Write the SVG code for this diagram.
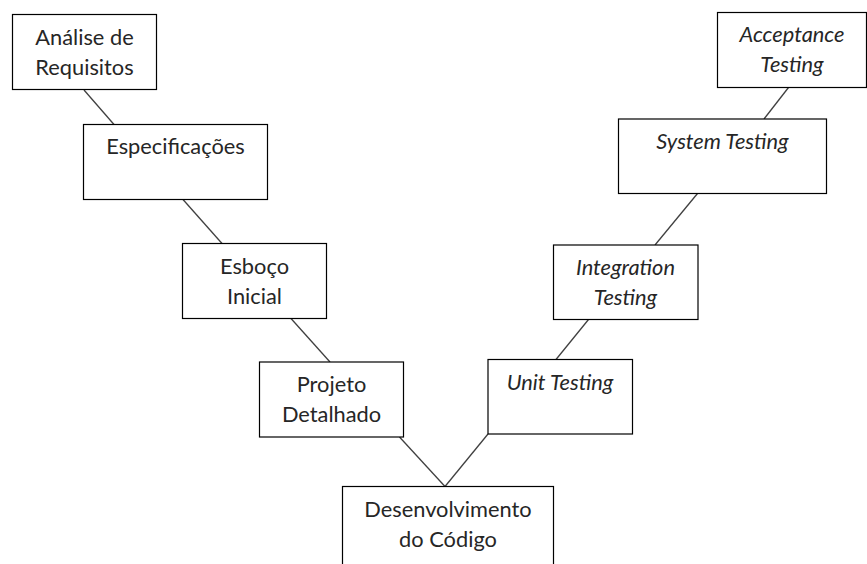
<svg xmlns="http://www.w3.org/2000/svg" width="867" height="564" viewBox="0 0 867 564">
<style>
.box{fill:#fff;stroke:#000;stroke-width:1.2}
.t{font-family:Lato,"Liberation Sans",sans-serif;font-size:21.8px;fill:#262626;text-anchor:middle}
.i{font-style:italic}
.c{stroke:#404040;stroke-width:1.3;fill:none}
</style>
<rect width="867" height="564" fill="#fff"/>
<g id="connectors">
<line class="c" x1="84" y1="90" x2="114" y2="124.5"/>
<line class="c" x1="183" y1="199.5" x2="222" y2="243.5"/>
<line class="c" x1="291" y1="318.5" x2="330" y2="362"/>
<line class="c" x1="399.5" y1="437" x2="445" y2="486.5"/>
<line class="c" x1="445" y1="486.5" x2="488" y2="434"/>
<line class="c" x1="556" y1="359.5" x2="588.5" y2="319.5"/>
<line class="c" x1="655" y1="245" x2="697.5" y2="193.5"/>
<line class="c" x1="764" y1="119" x2="788.5" y2="87.5"/>
</g>
<g id="n1"><rect class="box" x="12.5" y="14.5" width="144" height="75"/><text class="t" x="84.5" y="45">Análise de</text><text class="t" x="84.5" y="75">Requisitos</text></g>
<g id="n2"><rect class="box" x="83.5" y="124.5" width="184" height="75"/><text class="t" x="175.5" y="154">Especificações</text></g>
<g id="n3"><rect class="box" x="182.5" y="243.5" width="144" height="75"/><text class="t" x="254.5" y="273.5">Esboço</text><text class="t" x="254.5" y="303.5">Inicial</text></g>
<g id="n4"><rect class="box" x="259.5" y="362" width="144" height="75"/><text class="t" x="331.5" y="392">Projeto</text><text class="t" x="331.5" y="422">Detalhado</text></g>
<g id="n5"><rect class="box" x="342.5" y="486.5" width="211" height="90"/><text class="t" x="448" y="516.5">Desenvolvimento</text><text class="t" x="448" y="546.5">do Código</text></g>
<g id="n6"><rect class="box" x="488" y="359.5" width="144.5" height="74.5"/><text class="t i" x="560" y="389.5">Unit Testing</text></g>
<g id="n7"><rect class="box" x="553.5" y="245" width="144.5" height="74.5"/><text class="t i" x="625.5" y="275">Integration</text><text class="t i" x="625.5" y="305">Testing</text></g>
<g id="n8"><rect class="box" x="618.5" y="119" width="208" height="74.5"/><text class="t i" x="722.5" y="149">System Testing</text></g>
<g id="n9"><rect class="box" x="717.5" y="12.5" width="149" height="75"/><text class="t i" x="792" y="42">Acceptance</text><text class="t i" x="792" y="72">Testing</text></g>
</svg>
